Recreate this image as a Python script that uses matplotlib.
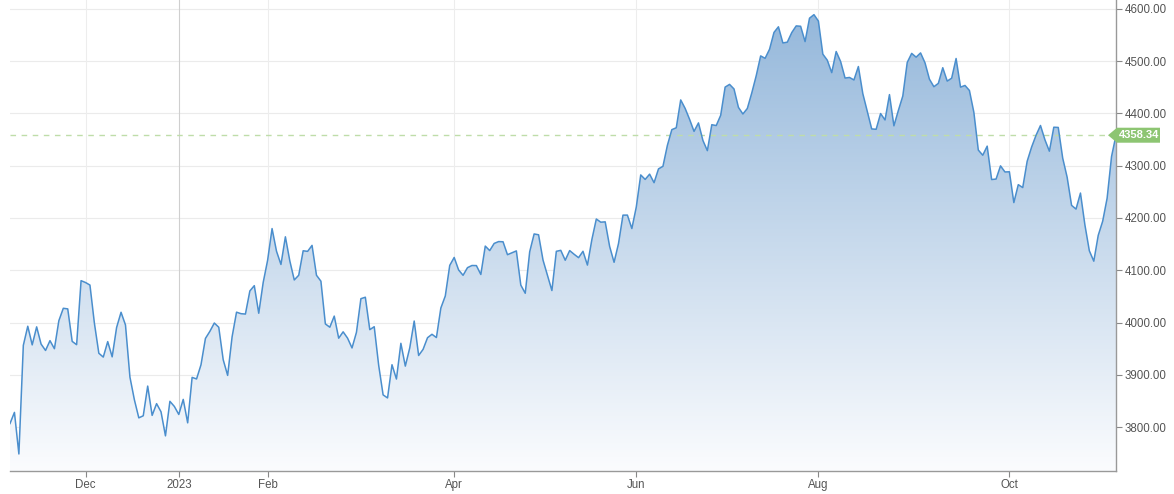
import numpy as np
import pandas as pd
import matplotlib
matplotlib.use("Agg")
import matplotlib.pyplot as plt
from matplotlib.patches import Polygon
from matplotlib.colors import LinearSegmentedColormap
from matplotlib.transforms import IdentityTransform

plt.rcParams["font.family"] = ["Liberation Sans", "DejaVu Sans"]

# daily closes, 2022-11-07 .. 2023-11-03
closes = [
    3806.80, 3828.11, 3748.57, 3956.37, 3992.93, 3957.25, 3991.73, 3958.79, 3946.56, 3965.34,
    3949.94, 4003.58, 4027.26, 4026.12, 3963.94, 3957.63, 4080.11,
    # Dec
    4076.57, 4071.70, 3998.84, 3941.26, 3933.92, 3963.51, 3934.38, 3990.56, 4019.65, 3995.32,
    3895.75, 3852.36, 3817.66, 3821.62, 3878.44, 3822.39, 3844.82, 3829.25, 3783.22, 3849.28,
    3839.50,
    # Jan
    3824.14, 3852.97, 3808.10, 3895.08, 3892.09, 3919.25, 3969.61, 3983.17, 3999.09, 3990.97,
    3928.86, 3898.85, 3972.61, 4019.81, 4016.95, 4016.22, 4060.43, 4070.56, 4017.77, 4076.60,
    # Feb
    4119.21, 4179.76, 4136.48, 4111.08, 4164.00, 4117.86, 4081.50, 4090.46, 4137.29, 4136.13,
    4147.60, 4090.41, 4079.09, 3997.34, 3991.05, 4012.32, 3970.04, 3982.24, 3970.15,
    # Mar
    3951.39, 3981.35, 4045.64, 4048.42, 3986.37, 3992.01, 3918.32, 3861.59, 3855.76, 3919.29,
    3891.93, 3960.28, 3916.64, 3951.57, 4002.87, 3936.97, 3948.72, 3970.99, 3977.53, 3971.27,
    4027.81, 4050.83, 4109.31,
    # Apr
    4124.51, 4100.60, 4090.38, 4105.02, 4109.11, 4108.94, 4091.95, 4146.22, 4137.64, 4151.32,
    4154.87, 4154.52, 4129.79, 4133.52, 4137.04, 4071.63, 4055.99, 4135.35, 4169.48,
    # May
    4167.87, 4119.58, 4090.75, 4061.22, 4136.25, 4138.12, 4119.17, 4137.64, 4130.62, 4124.08,
    4136.28, 4109.90, 4158.77, 4198.05, 4191.98, 4192.63, 4145.58, 4115.24, 4151.28, 4205.45,
    4205.52, 4179.83,
    # Jun
    4221.02, 4282.37, 4273.79, 4283.85, 4267.52, 4293.93, 4298.86, 4338.93, 4369.01, 4372.59,
    4425.84, 4409.59, 4388.71, 4365.69, 4381.89, 4348.33, 4328.82, 4378.41, 4376.86, 4396.44,
    4450.38,
    # Jul
    4455.59, 4446.82, 4411.59, 4398.95, 4409.53, 4439.26, 4472.16, 4510.04, 4505.42, 4522.79,
    4554.98, 4565.72, 4534.87, 4536.34, 4554.64, 4567.46, 4566.75, 4537.41, 4582.23, 4588.96,
    # Aug
    4576.73, 4513.39, 4501.89, 4478.03, 4518.44, 4499.38, 4467.71, 4468.83, 4464.05, 4489.72,
    4437.86, 4404.33, 4370.36, 4369.71, 4399.77, 4387.55, 4436.01, 4376.31, 4405.71, 4433.31,
    4497.63, 4514.87, 4507.66,
    # Sep
    4515.77, 4496.83, 4465.48, 4451.14, 4457.49, 4487.46, 4461.90, 4467.44, 4505.10, 4450.32,
    4453.53, 4443.95, 4402.20, 4330.00, 4320.06, 4337.44, 4273.53, 4274.51, 4299.70, 4288.05,
    # Oct
    4288.39, 4229.45, 4263.75, 4258.19, 4308.50, 4335.66, 4358.24, 4376.95, 4349.61, 4327.78,
    4373.63, 4373.20, 4314.60, 4278.00, 4224.16, 4217.04, 4247.68, 4186.77, 4137.23, 4117.37,
    4166.82, 4193.80,
    # Nov
    4237.86, 4317.78, 4358.34,
]

holidays = ["2022-11-24", "2022-12-26", "2023-01-02", "2023-01-16", "2023-02-20",
            "2023-04-07", "2023-05-29", "2023-06-19", "2023-07-04", "2023-09-04"]
tick_months = ["2022-12", "2023-01", "2023-02", "2023-04", "2023-06", "2023-08", "2023-10"]
tick_labels = ["Dec", "2023", "Feb", "Apr", "Jun", "Aug", "Oct"]
y_ticks = [3800, 3900, 4000, 4100, 4200, 4300, 4400, 4500, 4600]
last_price = 4358.34

dates = pd.bdate_range("2022-11-07", "2023-11-03")
dates = dates[~dates.isin(pd.to_datetime(holidays))]
x = np.arange(len(closes))
y = np.array(closes)
months = dates.strftime("%Y-%m")
tick_pos = [int(np.argmax(months == m)) for m in tick_months]

W, H = 1174, 494
fig = plt.figure(figsize=(W / 100, H / 100), dpi=100)
ax = fig.add_axes([10 / W, 23 / H, 1106 / W, 471 / H])

ymin, ymax = 3716, 4617
ax.set_xlim(0, len(x) - 1)
ax.set_ylim(ymin, ymax)

# gradient fill under the line
cmap = LinearSegmentedColormap.from_list("fade", ["#fbfcfe", "#92b6da"])
grad = np.linspace(0, 1, 256).reshape(-1, 1)
img = ax.imshow(grad, cmap=cmap, aspect="auto", origin="lower",
                extent=[0, len(x) - 1, ymin, ymax], zorder=1)
poly = Polygon(np.column_stack([np.r_[x[0], x, x[-1]], np.r_[ymin, y, ymin]]),
               closed=True, facecolor="none", edgecolor="none")
ax.add_patch(poly)
img.set_clip_path(poly)

ax.plot(x, y, color="#4a8ecd", lw=1.1, zorder=3)

# grid
for v in y_ticks:
    ax.axhline(v, color="#ebebeb", lw=0.8, zorder=0.5)
for p, lab in zip(tick_pos, tick_labels):
    ax.axvline(p, color="#cfcfcf" if lab == "2023" else "#ededed", lw=0.8, zorder=0.5)

ax.axhline(last_price, color="#bfdda9", lw=1.0, ls=(0, (4, 4)), zorder=2)

ax.yaxis.tick_right()
ax.set_yticks(y_ticks)
ax.set_yticklabels([f"{v:.2f}" for v in y_ticks])
ax.set_xticks(tick_pos)
ax.set_xticklabels(tick_labels)
ax.tick_params(axis="both", colors="#888888", labelcolor="#555555", labelsize=8.3,
               length=4, width=0.8, pad=2)
for side in ["top", "left"]:
    ax.spines[side].set_visible(False)
for side in ["right", "bottom"]:
    ax.spines[side].set_color("#999999")
    ax.spines[side].set_linewidth(1.0)

# last price tag
fig.canvas.draw()
px, py = ax.transData.transform((x[-1], last_price))
sx = ax.transAxes.transform((1, 0))[0]
tip = sx - 8
tag = Polygon([(tip, py), (sx + 1, py + 7.5), (sx + 44, py + 7.5), (sx + 44, py - 7.5),
               (sx + 1, py - 7.5)], closed=True, transform=IdentityTransform(),
              facecolor="#8dc572", edgecolor="none", clip_on=False, zorder=5)
fig.add_artist(tag)
fig.text((sx + 23) / W, py / H, f"{last_price:.2f}", color="white", fontsize=8,
         fontweight="bold", ha="center", va="center", zorder=6)
ax.plot([x[-1]], [last_price], "o", ms=4, color="#2a9df4", clip_on=False, zorder=7)

fig.savefig("out.png", dpi=100)
